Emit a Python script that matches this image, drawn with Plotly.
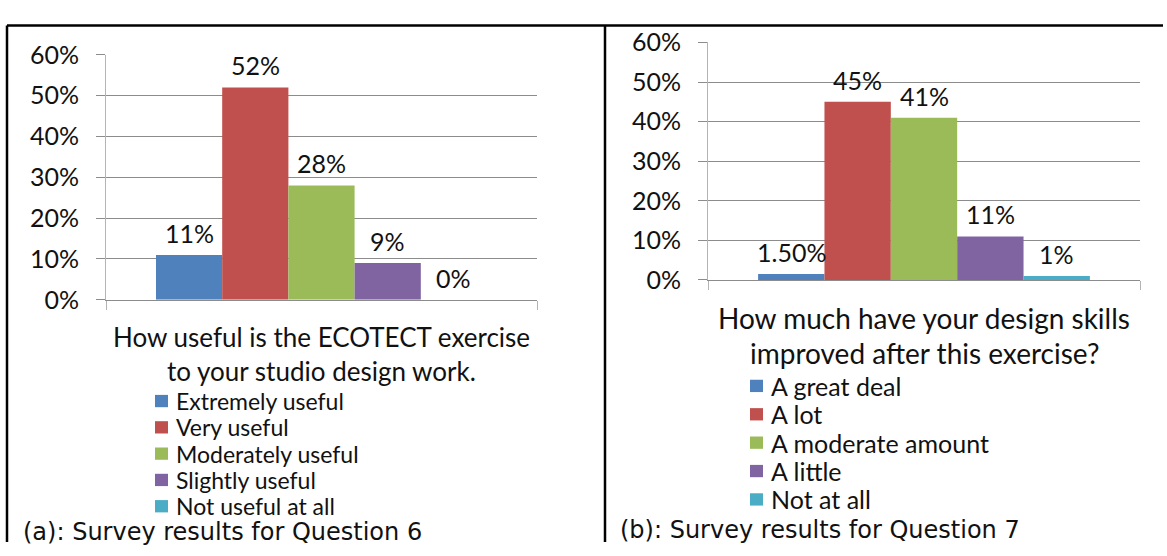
import plotly.graph_objects as go

W, H = 1167, 556

# ---------------- data ----------------
q6_categories = ["Extremely useful", "Very useful", "Moderately useful", "Slightly useful", "Not useful at all"]
q6_values = [0.11, 0.52, 0.28, 0.09, 0.00]
q6_labels = ["11%", "52%", "28%", "9%", "0%"]
q6_title = ["How useful is the ECOTECT exercise", "to your studio design work."]
q6_caption = "(a): Survey results for Question 6"

q7_categories = ["A great deal", "A lot", "A moderate amount", "A little", "Not at all"]
q7_values = [0.015, 0.45, 0.41, 0.11, 0.01]
q7_labels = ["1.50%", "45%", "41%", "11%", "1%"]
q7_title = ["How much have your design skills", "improved after this exercise?"]
q7_caption = "(b): Survey results for Question 7"

y_tickvals = [0, 0.1, 0.2, 0.3, 0.4, 0.5, 0.6]
y_ticktext = ["0%", "10%", "20%", "30%", "40%", "50%", "60%"]

colors = ["#4F81BD", "#C0504D", "#9BBB59", "#8064A2", "#4BACC6"]

# ---------------- style ----------------
FONT = "Lato"
CAP_FONT = "DejaVu Sans"
GRID = "#8c8c8c"
AXLINE = "#b4b4b4"
INK = "#111111"


def px(x):
    return x / W


def py(y):
    return 1 - y / H


panels = [
    dict(cats=q6_categories, vals=q6_values, labels=q6_labels, title=q6_title, caption=q6_caption,
         xa="x", ya="y", x0=106, x1=537, ytop=41, ybot=300,
         title_y=[339, 375], title_size=26, leg_x=155, leg_y0=407, leg_dy=27.8, leg_size=23,
         cap_x=22, cap_y=545),
    dict(cats=q7_categories, vals=q7_values, labels=q7_labels, title=q7_title, caption=q7_caption,
         xa="x2", ya="y2", x0=708, x1=1140, ytop=28, ybot=279,
         title_y=[319, 356], title_size=28, leg_x=750, leg_y0=391, leg_dy=30.0, leg_size=25,
         cap_x=619, cap_y=543),
]

fig = go.Figure()
annotations = []
shapes = []

half_extra = 0.755
xr = [-0.5 - half_extra, len(q6_values) - 0.5 + half_extra]

for k, p in enumerate(panels):
    for i, (c, v) in enumerate(zip(p["cats"], p["vals"])):
        fig.add_trace(go.Bar(x=[i], y=[v], width=1, name=c, marker=dict(color=colors[i], line=dict(width=0)),
                             xaxis=p["xa"], yaxis=p["ya"], showlegend=False, hoverinfo="name+y"))
        annotations.append(dict(x=i, y=v, xref=p["xa"], yref=p["ya"], text=p["labels"][i], showarrow=False,
                                yanchor="bottom", xanchor="center", yshift=6, borderpad=0,
                                font=dict(family=FONT, size=25, color=INK)))
    suffix = "" if k == 0 else "2"
    fig.update_layout(**{
        "xaxis" + suffix: dict(domain=[px(p["x0"]), px(p["x1"])], range=xr, showgrid=False, zeroline=False,
                               showline=True, linecolor=GRID, linewidth=1,
                               tickvals=[xr[0] + 1e-6, xr[1] - 1e-6], ticks="outside", ticklen=9,
                               tickcolor=AXLINE, tickwidth=1, showticklabels=False, fixedrange=True,
                               anchor="y" + suffix),
        "yaxis" + suffix: dict(domain=[py(p["ybot"]), py(p["ytop"])], range=[0, 0.6], tickvals=y_tickvals,
                               ticktext=y_ticktext, showgrid=True, gridcolor=GRID, gridwidth=1,
                               zeroline=False, showline=True, linecolor=AXLINE, linewidth=1,
                               ticks="outside", ticklen=9, tickcolor=GRID, tickwidth=1,
                               ticklabelstandoff=12,
                               tickfont=dict(family=FONT, size=25, color=INK), fixedrange=True,
                               anchor="x" + suffix),
    })
    cx = (p["x0"] + p["x1"]) / 2
    for line, ty in zip(p["title"], p["title_y"]):
        annotations.append(dict(x=px(cx), y=py(ty), xref="paper", yref="paper", text=line, showarrow=False,
                                xanchor="center", yanchor="middle", borderpad=0,
                                font=dict(family=FONT, size=p["title_size"], color=INK)))
    for i, c in enumerate(p["cats"]):
        yc = p["leg_y0"] + i * p["leg_dy"]
        shapes.append(dict(type="rect", xref="paper", yref="paper",
                           x0=px(p["leg_x"]), x1=px(p["leg_x"] + 13), y0=py(yc + 6.5), y1=py(yc - 6.5),
                           fillcolor=colors[i], line=dict(width=0)))
        annotations.append(dict(x=px(p["leg_x"] + 20), y=py(yc), xref="paper", yref="paper", text=c,
                                showarrow=False, xanchor="left", yanchor="middle", borderpad=0,
                                font=dict(family=FONT, size=p["leg_size"], color=INK)))
    annotations.append(dict(x=px(p["cap_x"]), y=py(p["cap_y"]), xref="paper", yref="paper", text=p["caption"],
                            showarrow=False, xanchor="left", yanchor="middle", borderpad=0,
                            font=dict(family=CAP_FONT, size=24, color=INK)))

# page frame lines
frame = [
    (7, 10, 1163, 10),
    (7, 10, 7, 556),
    (605, 10, 605, 556),
]
for (a, b, c, d) in frame:
    shapes.append(dict(type="line", xref="paper", yref="paper", x0=px(a), y0=py(b), x1=px(c), y1=py(d),
                       line=dict(color="#000000", width=2.5)))

fig.update_layout(width=W, height=H, margin=dict(l=0, r=0, t=0, b=0), paper_bgcolor="white",
                  plot_bgcolor="white", barmode="overlay", annotations=annotations, shapes=shapes,
                  showlegend=False)

fig.write_html("out.html", config={"displayModeBar": False},
               post_script="document.body.style.margin='0';document.body.style.overflow='hidden';")
